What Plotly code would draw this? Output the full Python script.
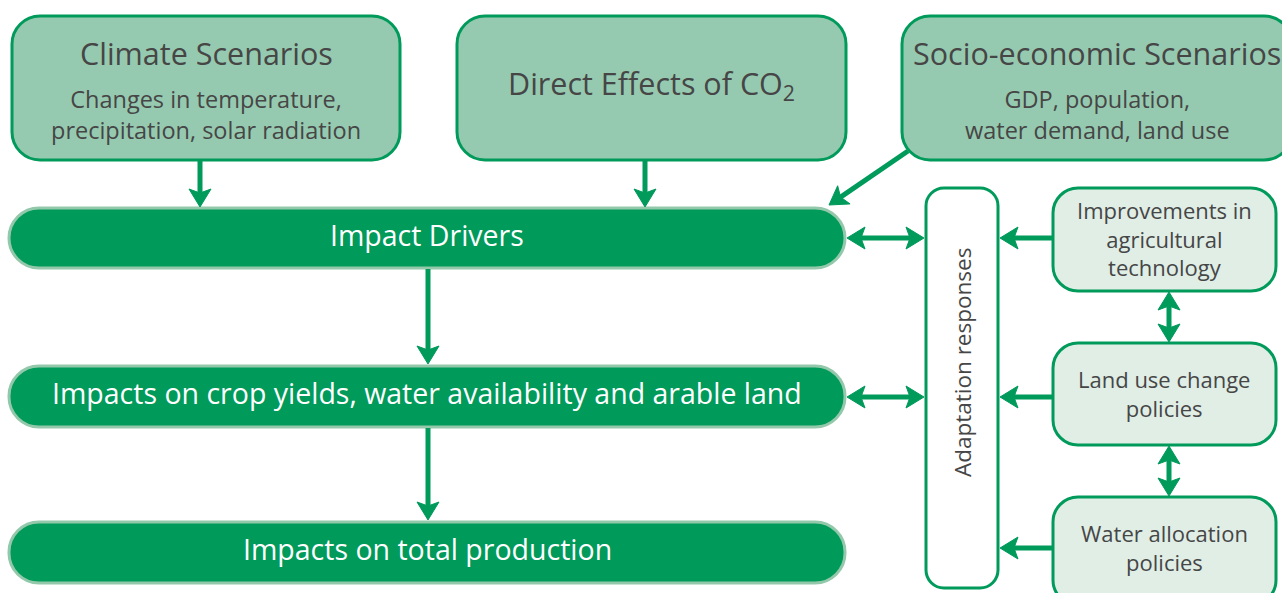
import plotly.graph_objects as go

# ---- content ----
scenario_titles = ["Climate Scenarios", "Direct Effects of CO<sub>2</sub>", "Socio-economic Scenarios"]
scenario_details = ["Changes in temperature,<br>precipitation, solar radiation", "", "GDP, population,<br>water demand, land use"]
impact_labels = ["Impact Drivers", "Impacts on crop yields, water availability and arable land", "Impacts on total production"]
adaptation_label = "Adaptation responses"
response_labels = ["Improvements in<br>agricultural<br>technology", "Land use change<br>policies", "Water allocation<br>policies"]

W, H = 1282, 593
FONT = "Open Sans"
DARK = "#009A5B"
MID = "#96CAB0"
PALE = "#E0EEE6"
PILL_EDGE = "#93C8AB"
TXT = "#464646"

K = 0.5523

def rrect(x0, y0, x1, y1, r):
    k = r * (1 - K)
    return (f"M{x0+r},{y0} L{x1-r},{y0} C{x1-k},{y0} {x1},{y0+k} {x1},{y0+r} "
            f"L{x1},{y1-r} C{x1},{y1-k} {x1-k},{y1} {x1-r},{y1} "
            f"L{x0+r},{y1} C{x0+k},{y1} {x0},{y1-k} {x0},{y1-r} "
            f"L{x0},{y0+r} C{x0},{y0+k} {x0+k},{y0} {x0+r},{y0} Z")

shapes = []
annotations = []

def box(x0, y0, x1, y1, r, fill, line, lw):
    shapes.append(dict(type="path", path=rrect(x0, y0, x1, y1, r), xref="x", yref="y",
                       fillcolor=fill, line=dict(color=line, width=lw), layer="below"))

def text(x, y, s, size, color, angle=0):
    annotations.append(dict(x=x, y=y, xref="x", yref="y", text=s, showarrow=False,
                            textangle=angle, align="center",
                            font=dict(family=FONT, size=size, color=color)))

L_HEAD, W_HEAD, NOTCH = 18, 11, 4

def head(tx, ty, dx, dy):
    n = (dx * dx + dy * dy) ** 0.5
    dx, dy = dx / n, dy / n
    px, py = -dy, dx
    bx, by = tx - L_HEAD * dx, ty - L_HEAD * dy
    nx, ny = tx - (L_HEAD - NOTCH) * dx, ty - (L_HEAD - NOTCH) * dy
    shapes.append(dict(type="path", xref="x", yref="y",
                       path=f"M{tx},{ty} L{bx+W_HEAD*px},{by+W_HEAD*py} L{nx},{ny} L{bx-W_HEAD*px},{by-W_HEAD*py} Z",
                       fillcolor=DARK, line=dict(color=DARK, width=1)))
    return nx, ny

def arrow(x0, y0, x1, y1, both=False):
    ex, ey = head(x1, y1, x1 - x0, y1 - y0)
    sx, sy = x0, y0
    if both:
        sx, sy = head(x0, y0, x0 - x1, y0 - y1)
    shapes.append(dict(type="line", xref="x", yref="y", x0=sx, y0=sy, x1=ex, y1=ey,
                       line=dict(color=DARK, width=5)))

# top scenario boxes
top_x = [(12, 400), (457, 846), (902, 1292)]
for (x0, x1), t, d in zip(top_x, scenario_titles, scenario_details):
    box(x0, 16, x1, 160, 28, MID, DARK, 3)
    cx = (x0 + x1) / 2
    if d:
        text(cx, 53, t, 30.5, TXT)
        text(cx, 114, d, 23.5, TXT)
    else:
        text(cx, 84, t, 30.5, TXT)

# impact pills
pill_y = [(208, 268), (366, 427), (522, 583)]
for (y0, y1), t in zip(pill_y, impact_labels):
    box(9, y0, 845, y1, 30, DARK, PILL_EDGE, 3)
    text(427, (y0 + y1) / 2 - 3.5, t, 28.5, "white")

# adaptation box
box(926, 188, 998, 588, 18, "white", DARK, 3)
text(962, 363, adaptation_label, 22.5, TXT, angle=-90)

# response boxes
resp_y = [(188, 291), (343, 445), (497, 605)]
resp_mid = [238, 393, 547]
for (y0, y1), ym, t in zip(resp_y, resp_mid, response_labels):
    box(1053, y0, 1276, y1, 25, PALE, DARK, 3)
    text(1164, ym, t, 22, TXT)

# arrows
arrow(200, 161, 200, 207)
arrow(645, 161, 645, 207)
arrow(908, 151, 829, 205)
arrow(428, 269, 428, 364)
arrow(428, 428, 428, 520)
arrow(847, 238, 924, 238, both=True)
arrow(847, 397, 924, 397, both=True)
arrow(1053, 238, 1000, 238)
arrow(1053, 397, 1000, 397)
arrow(1053, 548, 1000, 548)
arrow(1169, 292, 1169, 342, both=True)
arrow(1169, 446, 1169, 496, both=True)

fig = go.Figure()
fig.update_layout(
    width=W, height=H, margin=dict(l=0, r=0, t=0, b=0),
    paper_bgcolor="white", plot_bgcolor="white",
    xaxis=dict(range=[0, W], visible=False, fixedrange=True),
    yaxis=dict(range=[H, 0], visible=False, fixedrange=True),
    shapes=shapes, annotations=annotations, showlegend=False,
)
fig.write_html(
    "out.html",
    config={"displayModeBar": False},
    post_script="document.body.style.margin='0px';document.documentElement.style.overflow='hidden';",
)
